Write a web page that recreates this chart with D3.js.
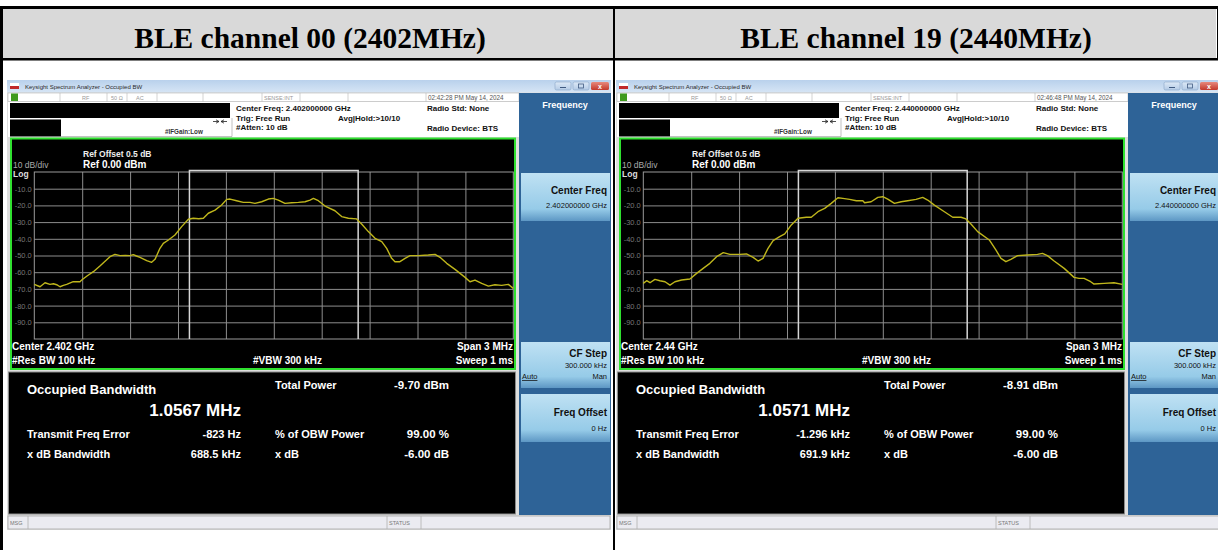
<!DOCTYPE html>
<html><head><meta charset="utf-8">
<script src="https://cdn.jsdelivr.net/npm/d3@7"></script>
<style>
html,body{margin:0;padding:0;background:#fff;}
svg{display:block;font-family:"Liberation Sans",Arial,sans-serif;}
</style></head><body>
<svg id="c" width="1218" height="550"></svg>
<script>
// ---------- data ----------
const panelTitles = ["BLE channel 00 (2402MHz)", "BLE channel 19 (2440MHz)"];
const centerFreqLong = ["2.402000000 GHz", "2.440000000 GHz"];
const centerFreqShort = ["2.402 GHz", "2.44 GHz"];
const timestamps = ["02:42:28 PM May 14, 2024", "02:46:48 PM May 14, 2024"];
const obwMHz = [1.0567, 1.0571];
const obwLabels = ["1.0567 MHz", "1.0571 MHz"];
const totalPower = ["-9.70 dBm", "-8.91 dBm"];
const freqError = ["-823 Hz", "-1.296 kHz"];
const xdbBandwidth = ["688.5 kHz", "691.9 kHz"];
const obwPercent = ["99.00 %", "99.00 %"];
const xdbValue = ["-6.00 dB", "-6.00 dB"];
const yTicks = [-10, -20, -30, -40, -50, -60, -70, -80, -90];
const xTicks = [-1.2, -0.9, -0.6, -0.3, 0, 0.3, 0.6, 0.9, 1.2];
const spanMHz = [-1.5, 1.5];
const refRange = [0, -100];

// spectrum traces: [offset from center (MHz), level (dBm)]
const traceCh00 = [
 [-1.500,-67.3],[-1.464,-68.7],[-1.433,-66.3],[-1.402,-67.3],[-1.380,-66.9],[-1.360,-67.5],[-1.339,-68.7],
 [-1.318,-67.9],[-1.297,-67.3],[-1.256,-65.7],[-1.214,-65.7],[-1.203,-64.7],[-1.170,-62.3],[-1.130,-59.7],
 [-1.089,-56.3],[-1.050,-52.9],[-1.026,-50.7],[-0.995,-49.3],[-0.963,-50.1],[-0.930,-49.9],[-0.901,-50.1],
 [-0.880,-49.5],[-0.860,-50.3],[-0.838,-51.1],[-0.796,-53.1],[-0.765,-54.1],[-0.744,-52.3],[-0.713,-45.7],
 [-0.692,-42.7],[-0.660,-40.7],[-0.619,-37.7],[-0.577,-32.7],[-0.535,-28.3],[-0.504,-27.7],[-0.470,-28.0],
 [-0.441,-27.7],[-0.410,-24.7],[-0.368,-22.8],[-0.327,-19.8],[-0.295,-16.4],[-0.274,-16.2],[-0.233,-17.2],
 [-0.191,-18.2],[-0.149,-18.2],[-0.118,-18.8],[-0.076,-17.8],[-0.034,-16.2],[-0.003,-15.8],[0.028,-16.8],
 [0.070,-18.8],[0.112,-18.4],[0.154,-18.2],[0.196,-17.8],[0.227,-16.8],[0.248,-15.8],[0.279,-17.2],
 [0.321,-20.4],[0.383,-23.2],[0.425,-26.7],[0.467,-27.7],[0.519,-28.1],[0.550,-31.1],[0.592,-35.7],
 [0.634,-39.7],[0.676,-41.7],[0.707,-45.7],[0.738,-51.7],[0.759,-53.7],[0.790,-53.7],[0.822,-51.7],
 [0.853,-50.1],[0.905,-50.1],[0.968,-49.7],[1.010,-49.3],[1.041,-51.1],[1.083,-54.7],[1.135,-58.3],
 [1.198,-63.1],[1.229,-65.7],[1.260,-64.7],[1.302,-66.7],[1.344,-68.3],[1.385,-67.5],[1.427,-67.9],
 [1.469,-67.3],[1.500,-69.7]
];
const traceCh19 = [
 [-1.500,-66.7],[-1.479,-65.1],[-1.458,-66.3],[-1.427,-64.3],[-1.396,-65.1],[-1.364,-65.7],[-1.333,-67.7],
 [-1.302,-65.7],[-1.260,-64.7],[-1.208,-64.1],[-1.166,-60.7],[-1.125,-57.7],[-1.083,-54.7],[-1.041,-50.7],
 [-0.999,-48.3],[-0.958,-49.3],[-0.896,-49.3],[-0.854,-49.1],[-0.812,-51.1],[-0.781,-53.3],[-0.750,-51.7],
 [-0.719,-45.7],[-0.687,-41.1],[-0.646,-38.7],[-0.614,-37.1],[-0.573,-31.7],[-0.531,-27.7],[-0.479,-27.1],
 [-0.448,-27.1],[-0.406,-23.8],[-0.364,-21.8],[-0.323,-18.8],[-0.281,-15.4],[-0.250,-15.8],[-0.208,-16.4],
 [-0.166,-17.2],[-0.125,-17.2],[-0.114,-18.4],[-0.073,-17.8],[-0.031,-15.2],[0.000,-14.8],[0.031,-16.2],
 [0.073,-18.8],[0.115,-17.8],[0.156,-17.2],[0.208,-16.4],[0.250,-15.2],[0.281,-16.8],[0.323,-19.8],
 [0.386,-23.8],[0.438,-27.1],[0.490,-27.1],[0.521,-28.1],[0.552,-31.1],[0.594,-35.7],[0.667,-40.7],
 [0.708,-46.7],[0.740,-51.7],[0.771,-53.7],[0.802,-52.3],[0.844,-50.1],[0.906,-49.7],[0.969,-49.3],
 [1.000,-48.7],[1.031,-50.1],[1.073,-53.3],[1.136,-57.7],[1.198,-63.1],[1.229,-63.7],[1.261,-63.7],
 [1.302,-65.7],[1.323,-67.1],[1.386,-66.7],[1.448,-66.3],[1.500,-67.3]
];
const traces = [traceCh00, traceCh19];

// ---------- drawing ----------
const svg = d3.select("#c");
const defs = svg.append("defs");
function grad(id, stops){
  const g = defs.append("linearGradient").attr("id", id).attr("x1",0).attr("y1",0).attr("x2",0).attr("y2",1);
  stops.forEach(s => g.append("stop").attr("offset", s[0]).attr("stop-color", s[1]));
}
grad("titleG", [[0,"#b9d1ec"],[1,"#d6e5f5"]]);
grad("btnG", [[0,"#bfe1f3"],[0.75,"#96cbe8"],[1,"#5d97c4"]]);
grad("closeG", [[0,"#e7897d"],[1,"#c3392c"]]);
grad("smallBtnG", [[0,"#dde9f6"],[1,"#b4cbe6"]]);

// table frame
svg.append("rect").attr("x",3).attr("y",9).attr("width",1213).attr("height",49).attr("fill","#d9d9d9");
svg.append("rect").attr("x",0).attr("y",6).attr("width",1218).attr("height",3).attr("fill","#000");
svg.append("rect").attr("x",0).attr("y",58).attr("width",1218).attr("height",2.5).attr("fill","#000");
svg.append("rect").attr("x",0).attr("y",6).attr("width",3).attr("height",544).attr("fill","#000");
svg.append("rect").attr("x",613).attr("y",6).attr("width",2).attr("height",544).attr("fill","#000");
svg.append("rect").attr("x",1217).attr("y",6).attr("width",1).attr("height",54).attr("fill","#000");
const colCenters = [310, 916];
panelTitles.forEach((t,i) => {
  svg.append("text").attr("x", colCenters[i]).attr("y", 47.5).attr("text-anchor","middle")
    .style("font-family","'Liberation Serif','Times New Roman',serif").attr("font-weight","bold")
    .attr("font-size", 29.5).attr("fill","#000").text(t);
});

const plotL = 34.3, plotR = 513.3, plotT = 172, plotB = 339;

function txt(g, x, y, s, size, opts = {}) {
  return g.append("text").attr("x", x).attr("y", y).attr("font-size", size)
    .attr("font-weight", opts.bold === false ? "normal" : "bold")
    .attr("fill", opts.fill || "#fff").attr("text-anchor", opts.anchor || "start").text(s);
}

function drawPanel(i, dx) {
  const g = svg.append("g").attr("transform", `translate(${dx},0)`);
  // window background
  g.append("rect").attr("x",7).attr("y",80).attr("width",604).attr("height",450).attr("fill","#dedede");
  // title bar
  g.append("rect").attr("x",7).attr("y",80).attr("width",604).attr("height",12.5).attr("fill","url(#titleG)");
  g.append("rect").attr("x",10).attr("y",83).attr("width",9).attr("height",3).attr("fill","#fff");
  g.append("rect").attr("x",10).attr("y",86).attr("width",9).attr("height",3).attr("fill","#c0282a");
  txt(g, 25, 89, "Keysight Spectrum Analyzer - Occupied BW", 6, {bold:false, fill:"#2a2a2a"});
  g.append("rect").attr("x",555).attr("y",82).attr("width",16).attr("height",8).attr("rx",1.5).attr("fill","url(#smallBtnG)").attr("stroke","#8aa6c8").attr("stroke-width",0.6);
  g.append("rect").attr("x",573).attr("y",82).attr("width",16).attr("height",8).attr("rx",1.5).attr("fill","url(#smallBtnG)").attr("stroke","#8aa6c8").attr("stroke-width",0.6);
  g.append("rect").attr("x",591).attr("y",82).attr("width",18).attr("height",8).attr("rx",1.5).attr("fill","url(#closeG)");
  g.append("line").attr("x1",560).attr("x2",566).attr("y1",87.5).attr("y2",87.5).attr("stroke","#405a80").attr("stroke-width",1);
  g.append("rect").attr("x",578.5).attr("y",84).attr("width",5).attr("height",4).attr("fill","none").attr("stroke","#405a80").attr("stroke-width",0.8);
  txt(g, 600, 88.8, "x", 7, {anchor:"middle"});

  // status row
  g.append("rect").attr("x",8).attr("y",93).attr("width",511).attr("height",8.5).attr("fill","#fff").attr("stroke","#b5b5b5").attr("stroke-width",0.6);
  [60, 107, 127, 157, 203, 262, 300, 348, 426].forEach(sx =>
    g.append("line").attr("x1",sx).attr("x2",sx).attr("y1",93).attr("y2",101.5).attr("stroke","#b5b5b5").attr("stroke-width",0.6));
  g.append("rect").attr("x",11).attr("y",93.5).attr("width",7).attr("height",7.5).attr("fill","#3f9a1e");
  txt(g, 82, 99.8, "RF", 5.5, {bold:false, fill:"#999"});
  txt(g, 111, 99.8, "50 Ω", 5.5, {bold:false, fill:"#999"});
  txt(g, 136, 99.8, "AC", 5.5, {bold:false, fill:"#999"});
  txt(g, 264, 99.8, "SENSE:INT", 5.5, {bold:false, fill:"#999"});
  txt(g, 428, 99.8, timestamps[i], 6.3, {bold:false, fill:"#555"});

  // header info area
  g.append("rect").attr("x",8).attr("y",102).attr("width",511).attr("height",35).attr("fill","#fff");
  g.append("rect").attr("x",10).attr("y",103).attr("width",220).attr("height",15).attr("fill","#000");
  g.append("rect").attr("x",10).attr("y",119.5).attr("width",51).attr("height",17).attr("fill","#000");
  g.append("line").attr("x1",61).attr("x2",232).attr("y1",136.5).attr("y2",136.5).attr("stroke","#999").attr("stroke-width",0.6);
  g.append("line").attr("x1",232).attr("x2",232).attr("y1",118).attr("y2",136.5).attr("stroke","#999").attr("stroke-width",0.6);
  txt(g, 165, 134, "#IFGain:Low", 6.3, {fill:"#333"});
  g.append("path").attr("d","M213,121.5H219M221,121.5H227M216,119.8L219,121.5L216,123.2M224,119.8L221,121.5L224,123.2")
    .attr("stroke","#222").attr("stroke-width",0.8).attr("fill","none");
  txt(g, 236, 111, "Center Freq: " + centerFreqLong[i], 8, {fill:"#111"});
  txt(g, 236, 120.5, "Trig: Free Run", 8, {fill:"#111"});
  txt(g, 338, 120.5, "Avg|Hold:>10/10", 8, {fill:"#111"});
  txt(g, 236, 130, "#Atten: 10 dB", 8, {fill:"#111"});
  txt(g, 427, 111, "Radio Std: None", 8, {fill:"#111"});
  txt(g, 427, 131, "Radio Device: BTS", 8, {fill:"#111"});

  // sidebar
  g.append("rect").attr("x",519).attr("y",93).attr("width",92).attr("height",422).attr("fill","#2e6397");
  txt(g, 565, 108, "Frequency", 9, {anchor:"middle", fill:"#fff"});
  [[173,221],[342,388],[394,442]].forEach(b =>
    g.append("rect").attr("x",521).attr("y",b[0]).attr("width",89).attr("height",b[1]-b[0]).attr("fill","url(#btnG)"));
  txt(g, 607, 194, "Center Freq", 10, {anchor:"end", fill:"#111"});
  txt(g, 607, 208, centerFreqLong[i], 7.5, {anchor:"end", bold:false, fill:"#111"});
  txt(g, 607, 357, "CF Step", 10, {anchor:"end", fill:"#111"});
  txt(g, 607, 368, "300.000 kHz", 7.5, {anchor:"end", bold:false, fill:"#111"});
  txt(g, 522, 379, "Auto", 7.5, {bold:false, fill:"#111"}).attr("text-decoration","underline");
  txt(g, 607, 379, "Man", 7.5, {anchor:"end", bold:false, fill:"#111"});
  txt(g, 607, 416, "Freq Offset", 10, {anchor:"end", fill:"#111"});
  txt(g, 607, 431, "0 Hz", 7.5, {anchor:"end", bold:false, fill:"#111"});

  // graph area
  g.append("rect").attr("x",11).attr("y",138.5).attr("width",504).attr("height",230.5).attr("fill","#000")
    .attr("stroke","#2fe02f").attr("stroke-width",2);
  txt(g, 83, 157, "Ref Offset 0.5 dB", 8.5, {fill:"#eee"});
  txt(g, 13, 168, "10 dB/div", 8.5, {bold:false, fill:"#aaa"});
  txt(g, 83, 168, "Ref 0.00 dBm", 10, {fill:"#fff"});
  txt(g, 13, 177, "Log", 8.5, {fill:"#ddd"});

  const x = d3.scaleLinear().domain(spanMHz).range([plotL, plotR]);
  const y = d3.scaleLinear().domain(refRange).range([plotT, plotB]);

  g.append("g").attr("transform", `translate(${plotL},0)`)
    .call(d3.axisLeft(y).tickValues(yTicks).tickSize(-(plotR - plotL)).tickPadding(2.5).tickFormat(d => d.toFixed(1)))
    .call(a => {
      a.select(".domain").remove();
      a.selectAll("line").attr("stroke","#8d8d8d").attr("stroke-width",1);
      a.selectAll("text").attr("fill","#777").attr("font-size",7.5).attr("font-family","'Liberation Sans',Arial,sans-serif");
    });
  g.append("g").attr("transform", `translate(0,${plotB})`)
    .call(d3.axisBottom(x).tickValues(xTicks).tickSize(-(plotB - plotT)).tickFormat(""))
    .call(a => {
      a.select(".domain").remove();
      a.selectAll("line").attr("stroke","#8d8d8d").attr("stroke-width",1);
    });
  g.append("rect").attr("x",plotL).attr("y",plotT).attr("width",plotR-plotL).attr("height",plotB-plotT)
    .attr("fill","none").attr("stroke","#9a9a9a").attr("stroke-width",1);

  // OBW markers
  const xl = x(-obwMHz[i] / 2), xr = x(obwMHz[i] / 2);
  g.append("path").attr("d", `M${xl},${plotB}V${plotT - 1.5}H${xr}V${plotB}`)
    .attr("fill","none").attr("stroke","#d6d6d6").attr("stroke-width",1.5);

  // trace
  g.append("path").datum(traces[i])
    .attr("d", d3.line().x(d => x(d[0])).y(d => y(d[1])))
    .attr("fill","none").attr("stroke","#bfb61c").attr("stroke-width",1.4).attr("stroke-linejoin","round");

  txt(g, 12, 350, "Center  " + centerFreqShort[i], 10, {fill:"#fff"});
  txt(g, 12, 364, "#Res BW  100 kHz", 10, {fill:"#fff"});
  txt(g, 253, 364, "#VBW  300 kHz", 10, {fill:"#fff"});
  txt(g, 513, 350, "Span 3 MHz", 10, {anchor:"end", fill:"#fff"});
  txt(g, 513, 364, "Sweep  1 ms", 10, {anchor:"end", fill:"#fff"});

  // measurement area
  g.append("rect").attr("x",8.5).attr("y",372).attr("width",507).attr("height",142).attr("fill","#000")
    .attr("stroke","#8a8a8a").attr("stroke-width",1);
  txt(g, 27, 394, "Occupied Bandwidth", 13, {fill:"#fff"});
  txt(g, 241, 416, obwLabels[i], 17, {anchor:"end", fill:"#fff"});
  txt(g, 27, 438, "Transmit Freq Error", 11, {fill:"#fff"});
  txt(g, 241, 438, freqError[i], 11, {anchor:"end", fill:"#fff"});
  txt(g, 27, 458, "x dB Bandwidth", 11, {fill:"#fff"});
  txt(g, 241, 458, xdbBandwidth[i], 11, {anchor:"end", fill:"#fff"});
  txt(g, 275, 389, "Total Power", 11, {fill:"#fff"});
  txt(g, 449, 389, totalPower[i], 11.5, {anchor:"end", fill:"#fff"});
  txt(g, 275, 438, "% of OBW Power", 11, {fill:"#fff"});
  txt(g, 449, 438, obwPercent[i], 11.5, {anchor:"end", fill:"#fff"});
  txt(g, 275, 458, "x dB", 11, {fill:"#fff"});
  txt(g, 449, 458, xdbValue[i], 11.5, {anchor:"end", fill:"#fff"});

  // status bar
  g.append("rect").attr("x",8).attr("y",516).attr("width",602).attr("height",13).attr("fill","#ebebf1")
    .attr("stroke","#a8a8a8").attr("stroke-width",0.8);
  [28, 387, 421].forEach(sx =>
    g.append("line").attr("x1",sx).attr("x2",sx).attr("y1",516).attr("y2",529).attr("stroke","#b0b0b0").attr("stroke-width",0.8));
  txt(g, 10, 524.5, "MSG", 5.5, {bold:false, fill:"#777"});
  txt(g, 389, 524.5, "STATUS", 5.5, {bold:false, fill:"#777"});
  return g;
}

drawPanel(0, 0);
drawPanel(1, 609);
// column divider on top
svg.append("rect").attr("x",613).attr("y",60).attr("width",2).attr("height",490).attr("fill","#000");
</script>
</body></html>
